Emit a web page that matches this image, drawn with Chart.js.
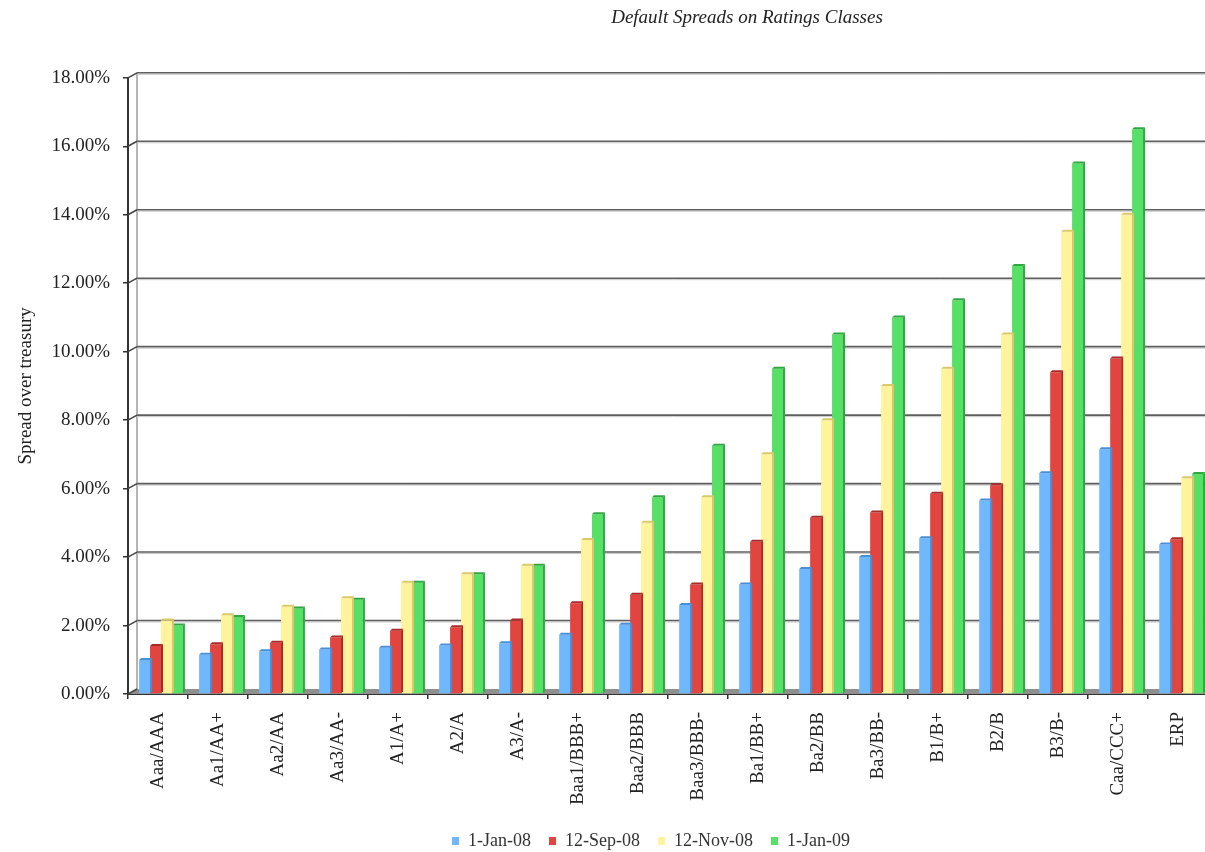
<!DOCTYPE html>
<html>
<head>
<meta charset="utf-8">
<title>Default Spreads on Ratings Classes</title>
<script src="https://cdn.jsdelivr.net/npm/chart.js@4.4.1/dist/chart.umd.min.js"></script>
<style>
  html, body { margin: 0; padding: 0; background: #fff; overflow: hidden; }
  #wrap { position: relative; width: 1214px; height: 852px; }
</style>
</head>
<body>
<div id="wrap"><canvas id="spreadChart"></canvas></div>
<script>
// Ratings classes along the x axis
const ratings = ['Aaa/AAA', 'Aa1/AA+', 'Aa2/AA', 'Aa3/AA-', 'A1/A+', 'A2/A', 'A3/A-',
  'Baa1/BBB+', 'Baa2/BBB', 'Baa3/BBB-', 'Ba1/BB+', 'Ba2/BB', 'Ba3/BB-',
  'B1/B+', 'B2/B', 'B3/B-', 'Caa/CCC+', 'ERP'];

// Spread over treasury, in percent, one list per date
const jan08 = [0.99, 1.15, 1.25, 1.30, 1.35, 1.42, 1.48, 1.73, 2.02, 2.60, 3.20, 3.65, 4.00, 4.55, 5.65, 6.45, 7.15, 4.37];
const sep08 = [1.40, 1.45, 1.50, 1.65, 1.85, 1.95, 2.15, 2.65, 2.90, 3.20, 4.45, 5.15, 5.30, 5.85, 6.10, 9.40, 9.80, 4.52];
const nov08 = [2.15, 2.30, 2.55, 2.80, 3.25, 3.50, 3.75, 4.50, 5.00, 5.75, 7.00, 8.00, 9.00, 9.50, 10.50, 13.50, 14.00, 6.30];
const jan09 = [2.00, 2.25, 2.50, 2.75, 3.25, 3.50, 3.75, 5.25, 5.75, 7.25, 9.50, 10.50, 11.00, 11.50, 12.50, 15.50, 16.50, 6.43];

const seriesNames = ['1-Jan-08', '12-Sep-08', '12-Nov-08', '1-Jan-09'];

// y axis runs 0% .. 18% in steps of 2%
const yMin = 0;
const yMax = 18;
const yStep = 2;

const faceColors = ['#70b8fd', '#e24440', '#fff39b', '#56e066'];
const sideColors = ['#4a8ed4', '#a92b28', '#d9c96a', '#30a842'];

const serif = 'Liberation Serif, Times New Roman, serif';

// back wall, floor and depth ticks behind the columns
const frame3d = {
  id: 'frame3d',
  beforeDatasetsDraw(chart) {
    const { ctx, chartArea: { left, right, top, bottom }, scales: { y } } = chart;
    const dx = 9, dy = 5;
    ctx.save();
    // floor
    ctx.fillStyle = '#8f8f8f';
    ctx.beginPath();
    ctx.moveTo(left, bottom);
    ctx.lineTo(left + dx, bottom - dy);
    ctx.lineTo(right, bottom - dy);
    ctx.lineTo(right, bottom);
    ctx.closePath();
    ctx.fill();
    // left edge of the back wall
    ctx.strokeStyle = '#9c9c9c';
    ctx.lineWidth = 1.5;
    ctx.beginPath();
    ctx.moveTo(left + dx, y.getPixelForValue(yMax) - dy);
    ctx.lineTo(left + dx, bottom - dy);
    ctx.stroke();
    // grid lines on the back wall
    y.ticks.forEach(t => {
      const py = y.getPixelForValue(t.value);
      ctx.strokeStyle = '#444';
      ctx.lineWidth = 1.5;
      ctx.beginPath();
      ctx.moveTo(left, py);
      ctx.lineTo(left + dx, py - dy);
      ctx.stroke();
      if (t.value > yMin) {
        ctx.strokeStyle = '#c8c8c8';
        ctx.lineWidth = 1;
        ctx.beginPath();
        ctx.moveTo(left + dx, py - dy + 1.5);
        ctx.lineTo(right, py - dy + 1.5);
        ctx.stroke();
        ctx.strokeStyle = '#5e5e5e';
        ctx.lineWidth = 1.6;
        ctx.beginPath();
        ctx.moveTo(left + dx, py - dy);
        ctx.lineTo(right, py - dy);
        ctx.stroke();
      }
    });
    ctx.restore();
    // columns stand a little into the depth of the plot
    ctx.save();
    ctx.translate(3, 0);
  },
  afterDatasetsDraw(chart) {
    chart.ctx.restore();
  },
  // side face and top cap of each column
  afterDatasetDraw(chart, args) {
    const { ctx } = chart;
    const i = args.index;
    const d = 2;
    ctx.save();
    args.meta.data.forEach(bar => {
      const { x, y, width, base } = bar.getProps(['x', 'y', 'width', 'base'], true);
      const l = x - width / 2, r = x + width / 2;
      ctx.fillStyle = sideColors[i];
      ctx.beginPath();
      ctx.moveTo(r, y);
      ctx.lineTo(r + d, y - d);
      ctx.lineTo(r + d, base - d);
      ctx.lineTo(r, base);
      ctx.closePath();
      ctx.fill();
      ctx.beginPath();
      ctx.moveTo(l, y);
      ctx.lineTo(l + d, y - d);
      ctx.lineTo(r + d, y - d);
      ctx.lineTo(r, y);
      ctx.closePath();
      ctx.fill();
    });
    ctx.restore();
  },
  // title and legend sit right of the canvas centre
  afterLayout(chart) {
    const shiftBox = (box, dx, dy) => {
      if (!box) return;
      box.left += dx;
      box.right += dx;
      box.top += dy;
      box.bottom += dy;
    };
    shiftBox(chart.titleBlock, 141, 0);
    shiftBox(chart.legend, 45, 8);
  }
};

const ctx = document.getElementById('spreadChart').getContext('2d');

new Chart(ctx, {
  type: 'bar',
  data: {
    labels: ratings,
    datasets: [jan08, sep08, nov08, jan09].map((values, i) => ({
      label: seriesNames[i],
      data: values,
      backgroundColor: faceColors[i],
      borderWidth: 0,
      categoryPercentage: 0.73,
      barPercentage: 1.0
    }))
  },
  options: {
    responsive: true,
    maintainAspectRatio: false,
    animation: false,
    layout: { padding: { top: 0, right: 2, bottom: 0, left: 0 } },
    plugins: {
      title: {
        display: true,
        text: 'Default Spreads on Ratings Classes',
        color: '#222',
        font: { family: serif, size: 19, style: 'italic', weight: 'normal' },
        padding: { top: 7, bottom: 48 }
      },
      legend: {
        position: 'bottom',
        labels: {
          boxWidth: 7,
          boxHeight: 8,
          color: '#333',
          padding: 18,
          font: { family: serif, size: 18 }
        }
      },
      tooltip: { enabled: false }
    },
    scales: {
      x: {
        afterFit(scale) { scale.height = 112; },
        grid: {
          drawOnChartArea: false,
          drawTicks: true,
          tickLength: 5,
          color: '#333',
          lineWidth: 1.5
        },
        border: { display: true, color: '#333', width: 2 },
        ticks: {
          autoSkip: false,
          minRotation: 90,
          maxRotation: 90,
          padding: 13,
          color: '#222',
          font: { family: serif, size: 19 }
        }
      },
      y: {
        min: yMin,
        max: yMax,
        afterFit(scale) { scale.width = 128; },
        title: {
          display: true,
          text: 'Spread over treasury',
          color: '#222',
          font: { family: serif, size: 19 },
          padding: { top: 15, bottom: 0 }
        },
        grid: {
          drawOnChartArea: false,
          drawTicks: true,
          tickLength: 5,
          color: '#333',
          lineWidth: 1.5
        },
        border: { display: true, color: '#333', width: 2 },
        ticks: {
          stepSize: yStep,
          padding: 13,
          color: '#222',
          font: { family: serif, size: 19 },
          callback: v => v.toFixed(2) + '%'
        }
      }
    }
  },
  plugins: [frame3d]
});
</script>
</body>
</html>
